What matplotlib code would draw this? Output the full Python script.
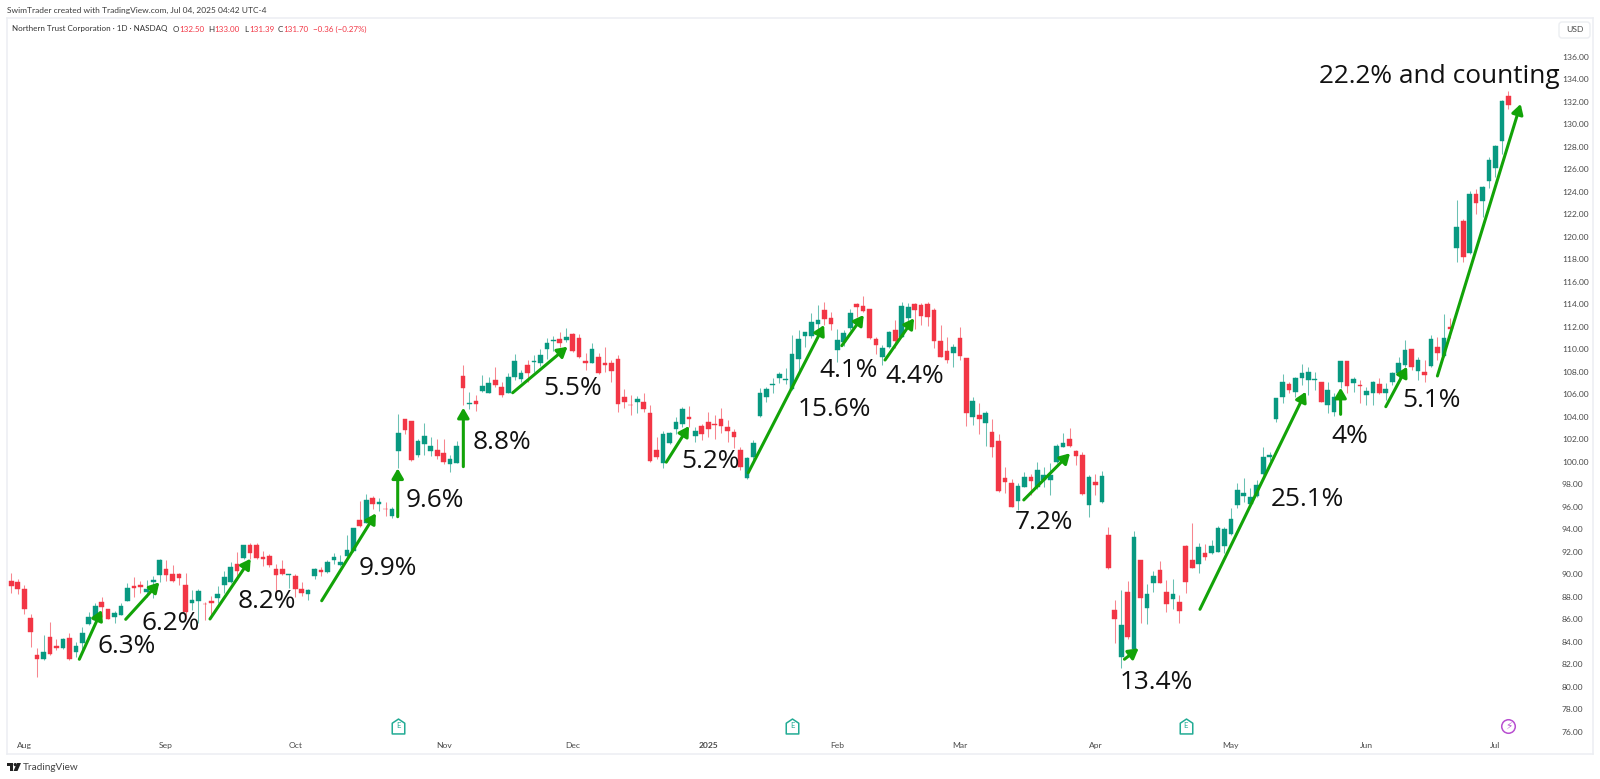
import numpy as np
import matplotlib
matplotlib.use("Agg")
import matplotlib.pyplot as plt
from matplotlib.patches import Polygon, FancyBboxPatch
from matplotlib.path import Path
from matplotlib.transforms import Affine2D

highs = [90.08,89.54,89.07,86.46,83.41,84.59,85.72,84.24,84.36,84.74,84.0,85.28,86.67,87.41,87.94,86.9,86.76,87.41,89.25,89.72,
 89.36,89.48,89.84,91.32,91.26,90.85,90.14,90.08,88.6,88.65,87.56,88.09,88.94,90.28,91.11,91.94,92.59,92.8,92.74,92.09,
 91.79,90.9,91.26,90.02,90.0,89.28,88.71,90.52,90.67,91.26,91.91,91.71,93.48,94.07,96.5,97.1,96.98,96.74,96.39,96.0,
 104.24,103.77,103.62,102.05,103.41,102.17,101.99,102.05,100.6,101.87,108.57,106.23,105.93,107.71,107.56,108.45,107.12,107.86,109.55,108.15,
 109.04,109.49,109.99,110.96,111.2,111.55,111.85,111.47,111.35,109.63,110.58,109.69,110.16,109.04,109.49,106.43,105.93,105.84,106.08,105.01,
 102.23,102.76,102.67,103.95,104.89,104.98,103.06,103.35,104.45,104.15,104.74,103.71,102.88,101.34,100.45,101.93,106.52,106.67,107.41,108.0,
 108.3,111.26,111.71,111.56,113.19,113.93,114.22,113.28,111.76,111.71,113.57,114.08,114.73,113.57,111.11,110.37,111.65,112.59,114.16,114.08,
 114.13,114.08,114.22,113.63,112.15,111.05,110.43,111.94,109.19,105.78,105.25,104.5,103.77,102.46,99.5,98.43,98.08,99.11,98.9,100.0,
 99.56,99.85,101.57,102.52,102.96,101.04,100.83,98.82,98.9,99.2,94.22,87.7,88.59,89.39,93.87,91.26,89.12,90.31,91.17,89.48,
 89.54,88.15,92.59,94.58,92.74,92.65,93.04,94.28,94.22,95.85,98.07,98.52,97.63,98.37,101.33,100.89,105.7,107.77,107.12,107.56,
 108.69,108.45,108.0,107.12,107.12,106.14,108.96,108.96,107.56,107.27,106.61,107.21,107.41,106.97,108.0,109.34,110.82,110.05,109.34,109.04,
 111.29,111.06,113.1,112.75,123.3,121.55,124.09,124.21,124.51,127.12,128.18,132.15,132.98]
lows = [88.36,88.24,86.46,83.56,80.83,82.37,82.79,83.26,83.35,82.37,82.67,83.26,85.48,85.63,86.22,85.99,85.69,86.37,87.59,88.0,
 88.36,87.94,87.85,89.33,89.42,89.33,89.04,86.0,86.82,85.63,85.93,86.37,87.41,88.3,89.25,89.48,91.32,91.38,91.38,90.73,
 90.67,88.45,89.93,88.74,87.94,88.06,87.71,89.54,89.84,90.13,90.9,90.73,91.41,92.0,94.22,94.52,95.76,95.65,95.17,94.96,
 99.41,102.5,100.09,100.45,100.6,100.51,100.27,99.8,99.12,99.85,105.04,104.66,104.54,106.23,106.08,106.67,105.72,106.08,107.26,107.12,
 107.12,108.0,108.51,109.12,109.87,110.2,110.6,109.78,109.24,108.15,108.74,107.79,107.98,107.11,104.45,104.75,104.15,104.3,104.45,100.0,
 100.21,99.41,101.57,102.46,103.06,103.06,101.78,101.93,102.23,101.99,102.58,101.78,101.19,99.26,98.49,100.15,104.0,105.34,106.08,106.96,
 106.9,106.37,107.85,110.22,110.96,111.26,112.15,111.71,108.89,110.28,111.71,112.89,113.33,110.88,109.57,108.59,110.1,110.07,111.05,112.0,
 111.76,112.15,112.06,110.07,109.28,108.74,108.39,109.04,103.17,103.26,102.46,101.39,100.39,97.33,97.19,95.94,95.71,97.72,97.04,97.54,
 97.78,97.04,99.91,101.34,101.34,99.7,97.04,95.11,97.04,96.36,90.49,83.85,81.63,84.26,83.2,85.69,85.57,88.44,89.18,86.67,
 86.87,85.69,88.3,90.55,90.13,91.26,91.79,91.94,91.85,93.48,95.91,96.44,96.15,96.89,98.81,100.09,103.56,105.25,106.08,105.78,
 106.82,105.93,106.38,105.28,104.36,104.07,106.53,106.14,106.23,105.19,105.04,105.04,106.0,105.49,106.82,107.41,108.45,108.15,107.27,107.12,
 108.45,109.04,109.34,110.97,117.75,117.78,118.46,122.02,121.78,124.3,125.34,127.35,131.39]
opens = [89.39,89.28,88.65,86.13,82.82,82.43,84.42,83.65,83.41,84.36,83.08,83.85,85.6,85.93,87.56,86.9,86.16,86.4,87.65,88.98,
 89.04,88.42,89.3,89.9,90.43,90.02,89.99,89.01,87.47,87.65,87.38,87.62,87.88,89.04,89.34,90.93,91.44,92.56,92.59,91.5,
 91.65,90.43,90.49,89.96,89.87,88.71,88.21,89.87,90.34,90.22,91.23,90.85,91.62,92.09,94.85,94.58,96.74,96.27,95.82,95.17,
 100.92,103.77,103.62,100.57,101.6,100.98,101.07,100.75,99.77,99.89,107.65,105.16,105.37,106.29,106.14,107.26,106.67,106.14,107.53,107.32,
 108.6,108.86,108.75,110.01,110.7,110.9,110.81,111.35,110.96,108.98,108.8,109.3,108.8,108.74,109.1,105.78,105.04,105.28,105.31,104.3,
 101.04,99.92,101.69,102.88,103.35,103.95,102.29,103.15,103.53,103.35,103.83,103.12,102.61,101.04,98.58,100.45,104.06,105.72,106.85,107.44,
 107.29,106.43,109.16,111.17,111.17,112.2,113.45,112.74,109.93,110.67,111.91,114.02,113.87,113.54,110.88,109.34,110.16,111.71,111.11,112.77,
 114.02,113.96,113.99,113.48,110.76,109.87,109.69,110.96,109.19,103.94,104.15,103.41,102.67,101.87,98.52,98.13,96.48,97.78,98.61,97.78,
 98.37,98.37,100.0,101.34,102.05,100.98,100.62,96.18,98.19,96.39,93.51,86.81,82.61,88.41,83.32,91.23,86.96,89.24,90.37,88.41,
 87.76,87.55,92.53,91.26,90.9,91.91,91.85,92.0,92.53,93.57,96.15,96.95,96.24,96.95,98.9,100.38,103.8,105.78,106.91,106.2,
 107.41,107.27,107.27,107.09,105.04,104.42,107.06,108.93,106.97,106.82,105.93,106.14,106.91,106.08,107.09,107.92,108.6,110.02,108.07,107.95,
 108.54,110.23,109.4,111.95,118.97,121.43,118.52,123.77,123.15,124.92,126.11,128.54,132.5]
closes = [88.95,88.65,86.88,84.86,82.43,83.05,82.91,83.44,84.27,82.46,83.62,84.8,86.2,87.2,87.11,86.05,86.58,87.2,88.74,88.77,
 88.83,88.68,89.51,91.26,89.96,89.42,89.63,86.67,87.74,88.48,87.32,87.41,88.24,89.75,90.61,90.28,92.59,91.91,91.44,91.38,
 90.79,89.93,89.99,90.02,88.71,88.36,88.6,90.43,90.16,91.05,91.56,91.11,92.15,94.07,94.31,96.62,96.24,96.39,95.79,95.76,
 102.52,102.79,100.15,101.84,102.32,101.43,100.51,99.95,100.27,101.37,106.52,105.25,105.16,106.76,106.97,106.82,105.93,107.56,108.92,107.86,
 107.86,108.95,109.52,110.52,110.78,110.52,111.1,109.87,109.3,108.77,109.98,107.91,108.59,108.09,105.13,105.31,105.01,105.55,104.66,100.09,
 100.45,102.46,102.58,103.56,104.72,103.83,102.7,102.43,102.94,103.29,103.18,102.7,102.2,99.5,100.36,101.63,106.08,106.46,106.91,107.76,
 107.38,109.54,110.93,111.5,112.42,112.59,112.68,112.27,110.82,111.41,113.25,113.78,113.42,110.96,110.37,110.13,111.5,110.76,113.84,113.78,
 113.48,112.95,112.83,110.73,109.34,109.04,110.22,109.39,104.36,105.36,103.82,104.36,101.28,97.42,98.19,96.0,97.84,98.67,98.31,99.29,
 98.85,98.79,101.42,101.63,101.4,100.53,97.13,98.67,97.93,98.73,90.52,85.98,85.51,84.38,93.27,87.91,88.27,89.84,89.24,87.38,
 88.27,86.69,89.3,90.58,92.38,91.55,92.53,94.07,94.01,94.93,97.48,97.21,96.89,97.92,100.44,100.59,105.64,107.12,106.38,107.47,
 107.86,108.0,107.33,105.34,106.41,105.78,108.93,106.76,107.33,106.7,106.29,107.06,106.08,106.47,107.92,108.75,109.93,108.45,109.04,107.71,
 110.88,109.64,111.03,111.83,120.84,118.17,123.8,122.97,124.42,126.82,128.04,132.09,131.7]

month_pos = [2,24,44,67,87,108,128,147,168,189,210,230]
month_labels = ["Aug","Sep","Oct","Nov","Dec","2025","Feb","Mar","Apr","May","Jun","Jul"]
price_ticks = list(range(76,137,2))
earnings_pos = [60,121,182]
dividend_pos = [232]
icon_price = 76.55

# arrows: start idx, start price, end idx, end price
arrow_x0 = [10.54,17.73,30.79,48.1,59.88,70.05,77.7,101.5,114.2,128.7,135.4,156.9,172.5,184.2,206.0,213.0,221.0]
arrow_y0 = [82.44,85.99,86.02,87.64,95.11,99.56,106.13,99.96,99.02,110.31,109.04,96.6,82.44,86.88,104.21,104.89,107.62]
arrow_x1 = [14.01,22.94,37.1,56.5,59.88,70.05,86.2,105.03,125.96,132.1,139.9,164.07,174.7,200.6,206.0,216.3,233.9]
arrow_y1 = [86.82,89.28,91.38,95.41,99.41,104.8,110.22,103.17,112.15,113.04,112.75,100.75,83.41,106.22,106.58,108.44,131.8]

note_text = ["6.3%","6.2%","8.2%","9.9%","9.6%","8.8%","5.5%","5.2%","15.6%","4.1%","4.4%","7.2%","13.4%","25.1%","4%","5.1%","22.2% and counting"]
note_x = [13.33,20.2,35.08,53.77,61.16,71.5,82.44,103.78,121.8,125.3,135.4,155.5,171.8,195.2,204.5,215.6,202.7]
note_y = [83.61,85.66,87.53,90.55,96.57,101.75,106.55,100.03,104.62,108.12,107.53,94.63,80.33,96.68,102.25,105.42,134.23]

UP, DOWN = "#089981", "#F23645"
ARROW = "#12A308"
FRAME = "#ECEEF2"
TICK = "#4A4A4A"
W, H = 1600, 779
UI = "Lato"

fig = plt.figure(figsize=(W/100, H/100), dpi=100, facecolor="white")
L, R, T, B = 7, 1593, 18, 754
ax = fig.add_axes([L/W, (H-B)/H, (R-L)/W, (B-T)/H])
x0_px, step = 11.3, 6.453
ax.set_xlim((L-x0_px)/step, (R-x0_px)/step)
ax.set_ylim(100-(B-461.7)/11.25, 100-(T-461.7)/11.25)
for s in ax.spines.values():
    s.set_color(FRAME); s.set_linewidth(1.1)

x = np.arange(len(opens))
o, h, l, c = map(np.array, (opens, highs, lows, closes))
col = np.where(c >= o, UP, DOWN)
ax.vlines(x, l, h, colors=col, linewidth=0.75, alpha=0.6, zorder=2)
ax.bar(x, np.abs(c-o), bottom=np.minimum(o, c), width=0.72, color=col, edgecolor=col, linewidth=0.3, zorder=3)

ax.yaxis.tick_right()
ax.set_yticks(price_ticks, [f"{p:.2f}" for p in price_ticks])
ax.tick_params(axis="y", length=0, pad=-22.4, labelsize=6.1, labelcolor=TICK)
ax.set_xticks(month_pos, month_labels)
ax.tick_params(axis="x", length=0, pad=-8.5, labelsize=6.1, labelcolor=TICK)
for t in ax.get_yticklabels()+ax.get_xticklabels():
    t.set_family(UI)
    if t.get_text() == "2025":
        t.set_fontweight("bold")

for a, b, cc, d in zip(arrow_x0, arrow_y0, arrow_x1, arrow_y1):
    ax.annotate("", xy=(cc, d), xytext=(a, b), zorder=5,
                arrowprops=dict(arrowstyle="-|>,head_length=0.62,head_width=0.36", color=ARROW, lw=2.2,
                                shrinkA=0, shrinkB=0, mutation_scale=9.5))
for t, a, b in zip(note_text, note_x, note_y):
    ax.text(a, b, t, fontsize=18.9, family="Open Sans", color="#111111", ha="left", va="center", zorder=6)

house = Path([(-0.42,-0.5),(0.42,-0.5),(0.42,0.22),(0,0.5),(-0.42,0.22),(-0.42,-0.5)], closed=True)
ax.scatter(earnings_pos, [icon_price]*len(earnings_pos), marker=house, s=115, facecolor="white",
           edgecolor="#22AB94", linewidth=1.1, zorder=4)
for e in earnings_pos:
    ax.text(e, icon_price, "E", fontsize=5.5, family=UI, color="#22AB94", ha="center", va="center", zorder=5)
ax.scatter(dividend_pos, [icon_price]*len(dividend_pos), marker="o", s=95, facecolor="white",
           edgecolor="#B84FD0", linewidth=1.1, zorder=4)
for e in dividend_pos:
    ax.text(e, icon_price, "\u26a1", fontsize=7.5, family="DejaVu Sans", color="#B84FD0", ha="center", va="center", zorder=5)

def ftext(px, py, s, **kw):
    kw.setdefault("family", UI); kw.setdefault("fontsize", 6.1); kw.setdefault("va", "center")
    return fig.text(px/W, 1-py/H, s, **kw)

ftext(7, 10, "SwimTrader created with TradingView.com, Jul 04, 2025 04:42 UTC-4", fontsize=6.0, color="#3c3c3c")
ftext(12, 29, "Northern Trust Corporation \u00b7 1D \u00b7 NASDAQ", fontsize=5.75, color="#333333")
for px, lab in [(173,"O"),(208,"H"),(244,"L"),(278,"C")]:
    ftext(px, 29, lab, fontsize=5.75, color="#333333")
for px, lab in [(179,"132.50"),(214,"133.00"),(249,"131.39"),(283,"131.70"),(313,"\u22120.36 (\u22120.27%)")]:
    ftext(px, 29, lab, fontsize=5.75, color="#F23645")

ftext(1574.5, 30, "USD", ha="center", color=TICK)
px_tf = Affine2D().scale(1, -1).translate(0, H)
fig.add_artist(FancyBboxPatch((1559, 22), 31, 16, boxstyle="round,pad=0,rounding_size=3", transform=px_tf,
                              facecolor="white", edgecolor=FRAME, linewidth=1))
# TradingView logo
for pts in ([(7,763),(13,763),(13,771),(10,771),(10,766),(7,766)],
            [(17,763),(21,763),(17.5,771),(13.5,771)]):
    fig.add_artist(Polygon(pts, closed=True, transform=px_tf, facecolor="#222222", edgecolor="none"))
fig.add_artist(plt.Circle((15.2, 764.6), 1.6, transform=px_tf, facecolor="#222222", edgecolor="none"))
ftext(23, 767, "TradingView", fontsize=7.2, color="#444444")

fig.savefig("out.png", dpi=100, facecolor="white")
